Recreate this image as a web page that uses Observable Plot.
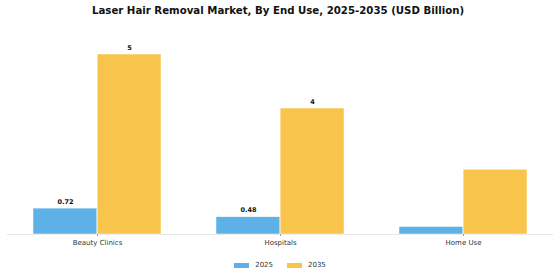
<!DOCTYPE html>
<html>
<head>
<meta charset="utf-8">
<script src="https://cdn.jsdelivr.net/npm/d3@7"></script>
<script src="https://cdn.jsdelivr.net/npm/@observablehq/plot@0.6"></script>
<style>
  html, body { margin: 0; padding: 0; background: #fff; }
  body { width: 560px; height: 280px; overflow: hidden; font-family: "DejaVu Sans", sans-serif; }
  #title { width: 556px; height: 22px; line-height: 22px; text-align: center; font-weight: bold; font-size: 10.2px; color: #111; white-space: nowrap; }
  #legend { height: 22px; display: flex; align-items: center; justify-content: center; font-size: 7px; color: #333; }
  .item { display: flex; align-items: center; margin: 0 7px; }
  .sw { width: 15px; height: 5px; margin-right: 6px; }
</style>
</head>
<body>
<div id="title">Laser Hair Removal Market, By End Use, 2025-2035 (USD Billion)</div>
<div id="chart"></div>
<div id="legend"></div>
<script>
const categories = ["Beauty Clinics", "Hospitals", "Home Use"];
const years = ["2025", "2035"];
const values2025 = [0.72, 0.48, 0.21];
const values2035 = [5.0, 3.5, 1.8];
const labels2025 = ["0.72", "0.48", ""];
const labels2035 = ["5", "4", ""];
const colors = ["#5DB1E6", "#F9C44C"];

const rows = [];
categories.forEach((c, i) => {
  rows.push({category: c, year: years[0], value: values2025[i], label: labels2025[i]});
  rows.push({category: c, year: years[1], value: values2035[i], label: labels2035[i]});
});
const r25 = rows.filter(d => d.year === years[0]);
const r35 = rows.filter(d => d.year === years[1]);

const W = 560, mL = 7, mR = 7;
const pIn = 0.3, pOut = 0.14;
const step = (W - mL - mR) / (categories.length - pIn + 2 * pOut);
const half = step * (1 - pIn) / 2;

const chart = Plot.plot({
  width: W,
  height: 232,
  marginLeft: mL,
  marginRight: mR,
  marginTop: 14,
  marginBottom: 20,
  style: {fontFamily: "DejaVu Sans", background: "transparent"},
  x: {domain: categories, paddingInner: pIn, paddingOuter: pOut, label: null},
  y: {domain: [0, 5.5], axis: null},
  marks: [
    Plot.ruleY([0], {stroke: "#e6e6e6", strokeWidth: 1}),
    Plot.barY(r25, {x: "category", y: "value", fill: colors[0], insetRight: half, stroke: "#fff", strokeWidth: 0.5}),
    Plot.barY(r35, {x: "category", y: "value", fill: colors[1], insetLeft: half, stroke: "#fff", strokeWidth: 0.5}),
    Plot.text(r25, {x: "category", y: "value", text: "label", dx: -half / 2, dy: -7, fontSize: 6.5, fontWeight: "bold", fill: "#111"}),
    Plot.text(r35, {x: "category", y: "value", text: "label", dx: half / 2, dy: -7, fontSize: 6.5, fontWeight: "bold", fill: "#111"}),
    Plot.axisX({tickSize: 2, tickPadding: 4, fontSize: 7, stroke: "#999", color: "#333", label: null})
  ]
});
document.getElementById("chart").appendChild(chart);

const legend = document.getElementById("legend");
years.forEach((y, i) => {
  const it = document.createElement("div");
  it.className = "item";
  const sw = document.createElement("div");
  sw.className = "sw";
  sw.style.background = colors[i];
  const t = document.createElement("span");
  t.textContent = y;
  it.appendChild(sw);
  it.appendChild(t);
  legend.appendChild(it);
});
</script>
</body>
</html>
